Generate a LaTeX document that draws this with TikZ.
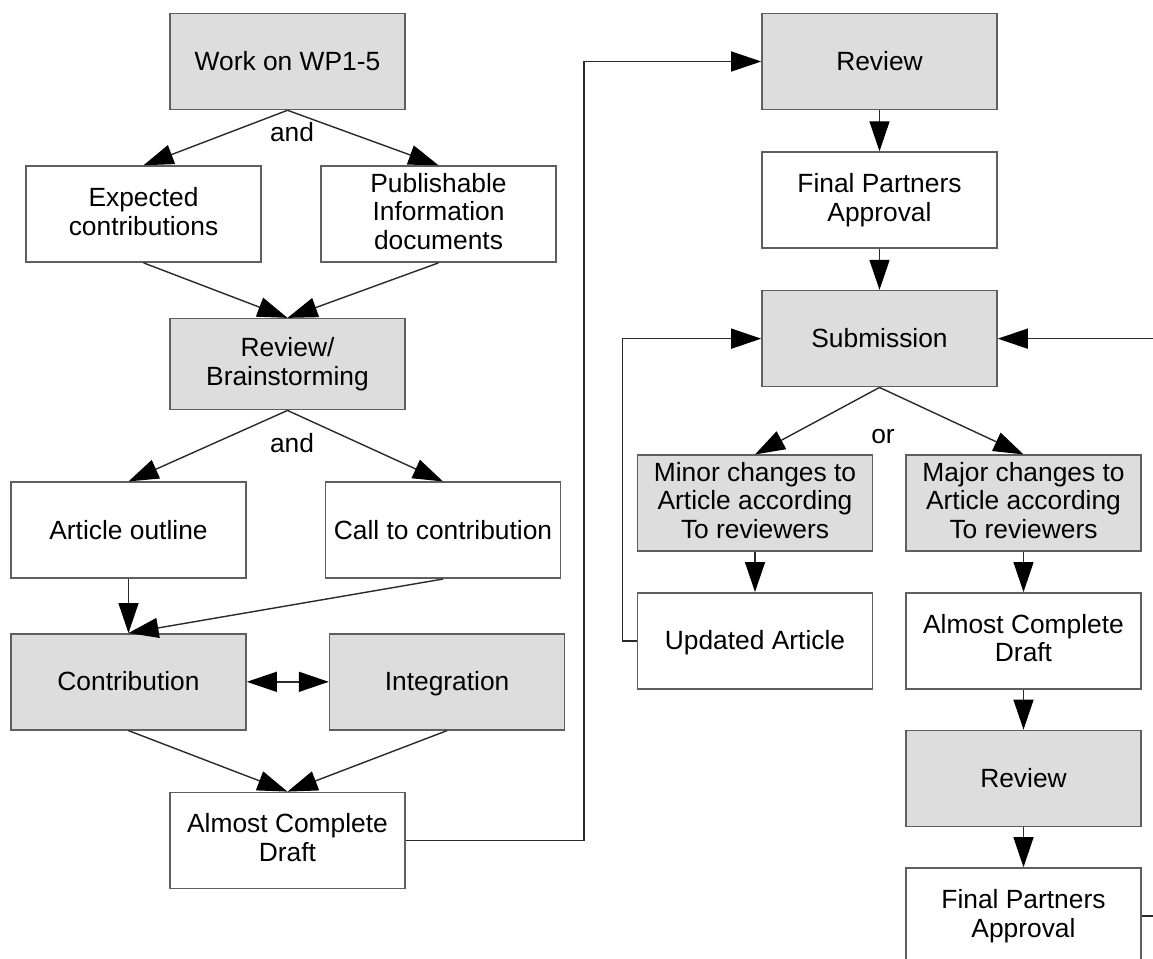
\documentclass[tikz,border=0pt]{standalone}
\usepackage{fontspec}
\setmainfont{Liberation Sans}
\usetikzlibrary{positioning, calc, arrows.meta}
\definecolor{colour_box}{HTML}{DDDDDD}
\definecolor{colour_line}{HTML}{2A2A2A}

\begin{document}
\begin{tikzpicture}[
    font=\fontsize{15}{16.3}\selectfont,
    box/.style={rectangle, draw=colour_line!75, line width=0.9pt,
                minimum height=1.92cm, minimum width=4.7cm, align=center, inner sep=2pt,
                execute at begin node={\rule{0pt}{13.6pt}},
                execute at end node={\rule[-3.2pt]{0pt}{3.2pt}}},
    shaded/.style={fill=colour_box},
    arrow/.style={-{Triangle[length=6mm, width=4mm, color=black]}, line width=0.8pt, colour_line},
    twoway/.style={{Triangle[length=6mm, width=4mm, color=black]}-{Triangle[length=6mm, width=4mm, color=black]},
                   line width=0.8pt, colour_line}
]
\useasboundingbox (0,0) rectangle (23.06,-19.18);

% Left column
\node[box, shaded] (wp) at (5.75,-1.23) {Work on WP1-5};
\node[box, below=1.1cm of wp, xshift=-2.88cm] (expected) {Expected\\contributions};
\node[box, below=1.1cm of wp, xshift=3.02cm] (publish) {Publishable\\Information\\documents};
\node[box, shaded, minimum height=1.82cm, below=1.1cm of expected, xshift=2.88cm] (brain) {Review/\\Brainstorming};
\node[box, below=1.42cm of brain, xshift=-3.18cm] (outline) {Article outline};
\node[box, below=1.42cm of brain, xshift=3.11cm] (call) {Call to contribution};
\node[box, shaded, below=1.08cm of outline] (contrib) {Contribution};
\node[box, shaded, right=1.64cm of contrib] (integ) {Integration};
\node[box, below=1.22cm of contrib, xshift=3.18cm] (draft) {Almost Complete\\Draft};

% Right column
\node[box, shaded] (review) at (17.59,-1.23) {Review};
\node[box, below=0.82cm of review] (approval) {Final Partners\\Approval};
\node[box, shaded, below=0.82cm of approval] (submit) {Submission};
\node[box, shaded, below=1.34cm of submit, xshift=-2.49cm] (minor) {Minor changes to\\Article according\\To reviewers};
\node[box, shaded, below=1.34cm of submit, xshift=2.88cm] (major) {Major changes to\\Article according\\To reviewers};
\node[box, below=0.8cm of minor] (updated) {Updated Article};
\node[box, below=0.8cm of major] (draft_two) {Almost Complete\\Draft};
\node[box, shaded, below=0.8cm of draft_two] (review_two) {Review};
\node[box, below=0.8cm of review_two] (approval_two) {Final Partners\\Approval};

% Labels on the splits
\node (and_one) at (5.84,-2.64) {and};
\node (and_two) at (5.84,-8.86) {and};
\node (or) at (17.66,-8.74) {or};

% Free ends at the border
\coordinate (submit_feed) at ($(submit.east)+(3.12,0)$);
\coordinate (approval_out) at ($(approval_two.east)+(0.3,0)$);

% Connectors
\draw[arrow] (wp.south) -- (expected.north);
\draw[arrow] (wp.south) -- (publish.north);
\draw[arrow] (expected.south) -- (brain.north);
\draw[arrow] (publish.south) -- (brain.north);
\draw[arrow] (brain.south) -- (outline.north);
\draw[arrow] (brain.south) -- (call.north);
\draw[arrow] (outline.south) -- (contrib.north);
\draw[arrow] (call.south) -- (contrib.north);
\draw[twoway] (contrib.east) -- (integ.west);
\draw[arrow] (contrib.south) -- (draft.north);
\draw[arrow] (integ.south) -- (draft.north);
\draw[arrow] (draft.east) -- ++(3.56,0) |- (review.west);

\draw[arrow] (review.south) -- (approval.north);
\draw[arrow] (approval.south) -- (submit.north);
\draw[arrow] (submit.south) -- (minor.north);
\draw[arrow] (submit.south) -- (major.north);
\draw[arrow] (minor.south) -- (updated.north);
\draw[arrow] (updated.west) -- ++(-0.28,0) |- (submit.west);
\draw[arrow] (major.south) -- (draft_two.north);
\draw[arrow] (draft_two.south) -- (review_two.north);
\draw[arrow] (review_two.south) -- (approval_two.north);
\draw[arrow] (submit_feed) -- (submit.east);
\draw[colour_line, line width=0.8pt] (approval_two.east) -- (approval_out);

\end{tikzpicture}
\end{document}
